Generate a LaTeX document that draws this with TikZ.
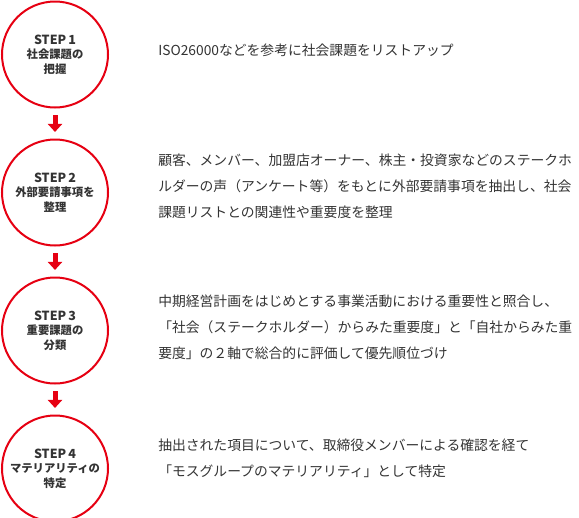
\documentclass[tikz,border=0pt]{standalone}
\usepackage{fontspec}
\setmainfont{Noto Sans CJK JP}
\usetikzlibrary{arrows.meta, positioning}
\definecolor{mosred}{RGB}{230,0,18}
\definecolor{textgray}{RGB}{51,51,51}

\begin{document}
\begin{tikzpicture}[
    x=0.75pt, y=-0.75pt,
    node distance=22.5pt,
    stepcircle/.style={circle, draw=mosred, line width=1.5pt, fill=white, minimum size=79.5pt, inner sep=0pt, align=center, text=textgray, font=\bfseries\fontsize{8.5}{10.8}\selectfont},
    desc/.style={anchor=west, align=left, text=textgray, inner sep=0pt, font=\fontsize{10.35}{19.5}\selectfont},
    arrow/.style={-{Triangle[length=6pt, width=10.5pt]}, draw=mosred, line width=3.75pt, shorten <=4.9pt, shorten >=4.9pt}
]
\useasboundingbox (0,0) rectangle (579,518);

% === STEPS ===
\node (step1) [stepcircle] at (55,54.5) {{\fontsize{9.4}{10.8}\selectfont STEP\,1}\\社会課題の\\把握};
\node (step2) [stepcircle, below=of step1] {{\fontsize{9.4}{10.8}\selectfont STEP\,2}\\外部要請事項を\\整理};
\node (step3) [stepcircle, below=of step2] {{\fontsize{9.4}{10.8}\selectfont STEP\,3}\\重要課題の\\分類};
\node (step4) [stepcircle, below=of step3] {{\fontsize{9.4}{10.8}\selectfont STEP\,4}\\マテリアリティの\\特定};

% === DESCRIPTIONS ===
\node (desc1) [desc] at (158,50) {ISO26000などを参考に社会課題をリストアップ};
\node (desc2) [desc] at (158,186) {顧客、メンバー、加盟店オーナー、株主・投資家などのステークホ\\ルダーの声（アンケート等）をもとに外部要請事項を抽出し、社会\\課題リストとの関連性や重要度を整理};
\node (desc3) [desc] at (158,327) {中期経営計画をはじめとする事業活動における重要性と照合し、\\「社会（ステークホルダー）からみた重要度」と「自社からみた重\\要度」の２軸で総合的に評価して優先順位づけ};
\node (desc4) [desc] at (158,458) {抽出された項目について、取締役メンバーによる確認を経て\\「モスグループのマテリアリティ」として特定};

% === ARROWS ===
\draw [arrow] (step1) -- (step2);
\draw [arrow] (step2) -- (step3);
\draw [arrow] (step3) -- (step4);

\end{tikzpicture}
\end{document}
